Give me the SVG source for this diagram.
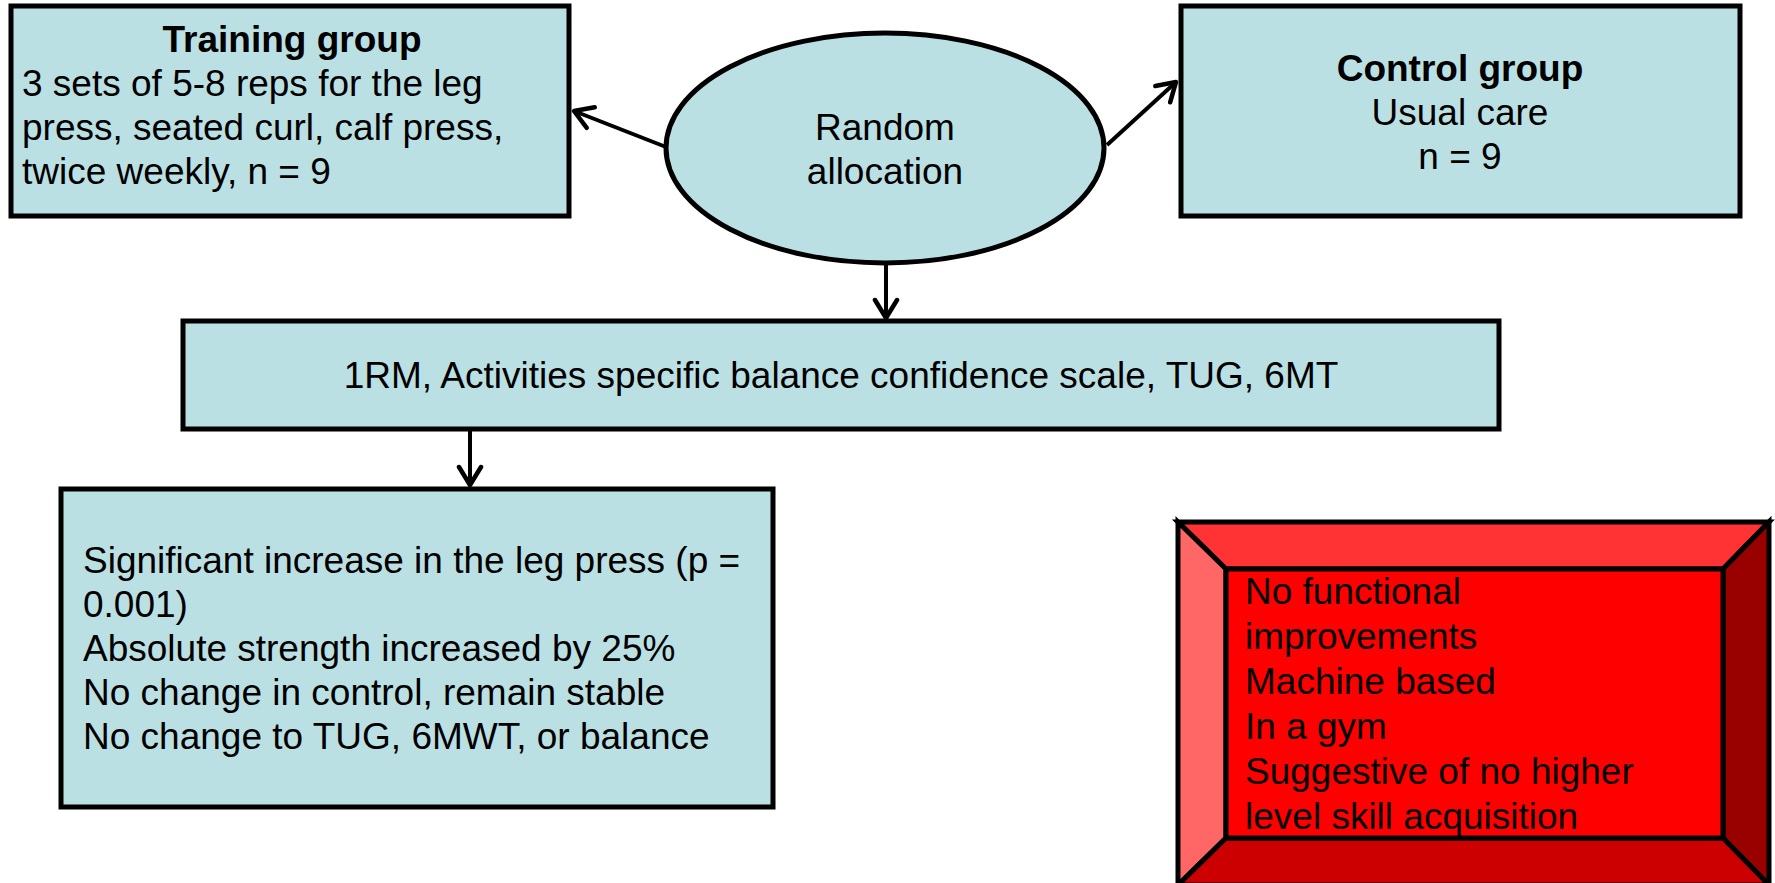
<svg xmlns="http://www.w3.org/2000/svg" width="1775" height="883" viewBox="0 0 1775 883">
  <style>
    .box { fill: #BBE0E3; stroke: #000; stroke-width: 5; }
    .t { font-family: "Liberation Sans", Arial, sans-serif; font-size: 37px; fill: #000; }
    .b { font-weight: bold; }
    .c { text-anchor: middle; }
    .conn { stroke: #000; stroke-width: 4; fill: none; marker-end: url(#arrow); }
    .bev { stroke: #000; stroke-width: 5; stroke-linejoin: miter; }
  </style>
  <defs>
    <marker id="arrow" viewBox="0 0 26 28" refX="22" refY="14" markerWidth="26" markerHeight="28" markerUnits="userSpaceOnUse" orient="auto">
      <path d="M4,3 L22,14 L4,25" fill="none" stroke="#000" stroke-width="4.5" stroke-linecap="round" stroke-linejoin="round"/>
    </marker>
  </defs>
  <rect width="1775" height="883" fill="#fff"/>

  <!-- connectors -->
  <g id="connectors">
    <line class="conn" x1="666" y1="147" x2="574" y2="111"/>
    <line class="conn" x1="1107" y1="145" x2="1176" y2="82"/>
    <line class="conn" x1="886" y1="263" x2="886" y2="318"/>
    <line class="conn" x1="470" y1="430" x2="470" y2="485"/>
  </g>

  <g id="training">
    <rect class="box" x="11" y="6" width="558" height="210"/>
    <text class="t b c" x="292" y="52">Training group</text>
    <text class="t" x="22" y="96">3 sets of 5-8 reps for the leg</text>
    <text class="t" x="22" y="140">press, seated curl, calf press,</text>
    <text class="t" x="22" y="184">twice weekly, n = 9</text>
  </g>

  <g id="allocation">
    <ellipse class="box" cx="885" cy="148" rx="219" ry="115"/>
    <text class="t c" x="885" y="140">Random</text>
    <text class="t c" x="885" y="184">allocation</text>
  </g>

  <g id="control">
    <rect class="box" x="1181" y="6" width="559" height="210"/>
    <text class="t b c" x="1460" y="81">Control group</text>
    <text class="t c" x="1460" y="125">Usual care</text>
    <text class="t c" x="1460" y="169">n = 9</text>
  </g>

  <g id="measures">
    <rect class="box" x="183" y="321" width="1316" height="108"/>
    <text class="t c" x="841" y="388">1RM, Activities specific balance confidence scale, TUG, 6MT</text>
  </g>

  <g id="results">
    <rect class="box" x="61" y="489" width="712" height="318"/>
    <text class="t" x="83" y="573">Significant increase in the leg press (p =</text>
    <text class="t" x="83" y="617">0.001)</text>
    <text class="t" x="83" y="661">Absolute strength increased by 25%</text>
    <text class="t" x="83" y="705">No change in control, remain stable</text>
    <text class="t" x="83" y="749">No change to TUG, 6MWT, or balance</text>
  </g>

  <g id="limitations">
    <polygon class="bev" fill="#FF3333" points="1178,522 1769,522 1723,569 1226,569"/>
    <polygon class="bev" fill="#FF6666" points="1178,522 1226,569 1226,838 1178,885"/>
    <polygon class="bev" fill="#990000" points="1769,522 1769,885 1723,838 1723,569"/>
    <polygon class="bev" fill="#CC0000" points="1178,885 1226,838 1723,838 1769,885"/>
    <rect class="bev" fill="#FF0000" x="1226" y="569" width="497" height="269"/>
    <text class="t" x="1245" y="604">No functional</text>
    <text class="t" x="1245" y="649">improvements</text>
    <text class="t" x="1245" y="694">Machine based</text>
    <text class="t" x="1245" y="739">In a gym</text>
    <text class="t" x="1245" y="784">Suggestive of no higher</text>
    <text class="t" x="1245" y="829">level skill acquisition</text>
  </g>
</svg>
